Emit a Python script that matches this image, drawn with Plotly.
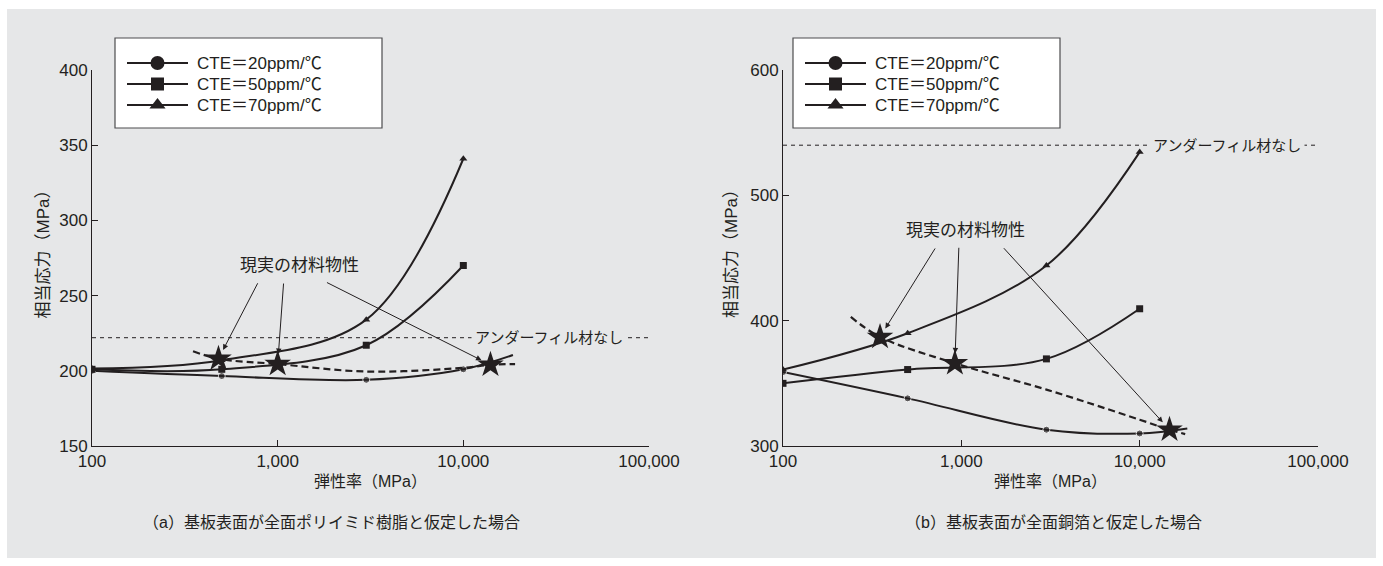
import math
import plotly.graph_objects as go

# ---------------- data ----------------
modulus = [100, 500, 3000, 10000]          # elastic modulus (MPa)

# (a) polyimide surface
a_cte20 = [200, 196.5, 194, 201]
a_cte20_ext = (18500, 210.5)
a_cte50 = [201, 201, 217, 270]
a_cte70 = [201.5, 207, 234, 341]
a_real_x = [480, 1000, 14000]
a_real_y = [208, 204.5, 204]
a_trend_x = [350, 480, 1000, 3000, 10000, 14000, 19000]
a_trend_y = [213, 208, 204.5, 199.5, 202, 204, 204.5]
a_nofill = 222

# (b) copper surface
b_cte20 = [359, 338, 313, 310]
b_cte20_ext = (18500, 314)
b_cte50 = [350, 361, 369.5, 409.5]
b_cte70 = [361, 390, 444, 534.5]
b_real_x = [350, 920, 14700]
b_real_y = [387, 366, 313]
b_trend_x = [240, 350, 920, 3000, 10000, 14700, 18000]
b_trend_y = [403, 387, 366, 345, 321, 313, 309.5]
b_nofill = 540

x_ticks = [100, 1000, 10000, 100000]
x_ticktext = ["100", "1,000", "10,000", "100,000"]
a_yticks = [150, 200, 250, 300, 350, 400]
b_yticks = [300, 400, 500, 600]

series_names = ["CTE＝20ppm/℃", "CTE＝50ppm/℃", "CTE＝70ppm/℃"]
series_symbols = ["circle", "square", "triangle-up"]
y_title = "相当応力（MPa）"
x_title = "弾性率（MPa）"
nofill_label = "アンダーフィル材なし"
real_label = "現実の材料物性"
caption_a = "（a）基板表面が全面ポリイミド樹脂と仮定した場合"
caption_b = "（b）基板表面が全面銅箔と仮定した場合"

# ---------------- style ----------------
W, H = 1383, 566
INK = "#231f20"
BG = "#e6e7e8"
FONT = "Liberation Sans, Noto Sans CJK JP, sans-serif"


def fx(p):
    return p / W


def fy(p):
    return 1 - p / H


fig = go.Figure()

panels = [
    dict(xa="x", ya="y", c20=a_cte20, ext=a_cte20_ext, c50=a_cte50, c70=a_cte70,
         rx=a_real_x, ry=a_real_y, tx=a_trend_x, ty=a_trend_y, nf=a_nofill),
    dict(xa="x2", ya="y2", c20=b_cte20, ext=b_cte20_ext, c50=b_cte50, c70=b_cte70,
         rx=b_real_x, ry=b_real_y, tx=b_trend_x, ty=b_trend_y, nf=b_nofill),
]

for p in panels:
    # no-underfill reference line
    fig.add_trace(go.Scatter(x=[x_ticks[0], x_ticks[-1]], y=[p["nf"], p["nf"]], mode="lines",
                             line=dict(color=INK, width=1, dash="4px,4px"),
                             xaxis=p["xa"], yaxis=p["ya"], showlegend=False, hoverinfo="skip"))
    # CTE series
    fig.add_trace(go.Scatter(x=modulus + [p["ext"][0]], y=p["c20"] + [p["ext"][1]],
                             mode="lines+markers",
                             line=dict(color=INK, width=2, shape="spline"),
                             marker=dict(symbol="circle", size=[7, 7, 7, 7, 0], color=INK),
                             xaxis=p["xa"], yaxis=p["ya"], showlegend=False))
    fig.add_trace(go.Scatter(x=modulus, y=p["c50"], mode="lines+markers",
                             line=dict(color=INK, width=2, shape="spline"),
                             marker=dict(symbol="square", size=7, color=INK),
                             xaxis=p["xa"], yaxis=p["ya"], showlegend=False))
    fig.add_trace(go.Scatter(x=modulus, y=p["c70"], mode="lines+markers",
                             line=dict(color=INK, width=2, shape="spline"),
                             marker=dict(symbol="triangle-up", size=7, color=INK),
                             xaxis=p["xa"], yaxis=p["ya"], showlegend=False))
    # trend of real material properties
    fig.add_trace(go.Scatter(x=p["tx"], y=p["ty"], mode="lines",
                             line=dict(color=INK, width=2.2, dash="7px,4px", shape="spline"),
                             xaxis=p["xa"], yaxis=p["ya"], showlegend=False))
    fig.add_trace(go.Scatter(x=p["rx"], y=p["ry"], mode="markers",
                             marker=dict(symbol="star", size=20, color=INK),
                             xaxis=p["xa"], yaxis=p["ya"], showlegend=False))

# ---------------- legends (drawn manually) ----------------
legend_boxes = [(115, 38, 382, 128, "x3", "y3"), (793, 38, 1060, 128, "x4", "y4")]
row_y = [25, 46, 67]
legend_sizes = {"circle": 14, "square": 13, "triangle-up": 14}
shapes = [dict(type="rect", xref="paper", yref="paper", x0=fx(7), x1=fx(1376), y0=fy(558), y1=fy(9),
               fillcolor=BG, line=dict(width=0), layer="below")]
annotations = []
for (l, t, r, b, xa, ya) in legend_boxes:
    shapes.append(dict(type="rect", xref="paper", yref="paper", x0=fx(l), x1=fx(r), y0=fy(b), y1=fy(t),
                       fillcolor="white", line=dict(color="#4d4d4f", width=1.2), layer="below"))
    for i, (name, sym) in enumerate(zip(series_names, series_symbols)):
        fig.add_trace(go.Scatter(x=[12, 73], y=[row_y[i], row_y[i]], mode="lines",
                                 line=dict(color=INK, width=2), xaxis=xa, yaxis=ya,
                                 showlegend=False, hoverinfo="skip"))
        fig.add_trace(go.Scatter(x=[42.5], y=[row_y[i]], mode="markers",
                                 marker=dict(symbol=sym, size=legend_sizes[sym], color=INK),
                                 xaxis=xa, yaxis=ya, showlegend=False, hoverinfo="skip"))
        annotations.append(dict(xref=xa, yref=ya, x=80, y=row_y[i], text=name, showarrow=False,
                                xanchor="left", yanchor="middle", font=dict(size=17, color=INK)))

# ---------------- annotations ----------------
# no-underfill labels
annotations.append(dict(xref="x", yref="y", x=4.461, y=a_nofill, text=nofill_label, showarrow=False,
                        xanchor="center", yanchor="middle",
                        bgcolor=BG, borderpad=3, font=dict(size=15, color=INK)))
annotations.append(dict(xref="x2", yref="y2", x=4.490, y=b_nofill, text=nofill_label, showarrow=False,
                        xanchor="center", yanchor="middle",
                        bgcolor=BG, borderpad=3, font=dict(size=15, color=INK)))
# real material label + arrows
annotations.append(dict(xref="x", yref="y", x=3.115, y=269.7, text=real_label, showarrow=False,
                        xanchor="center", yanchor="middle", font=dict(size=17, color=INK)))
annotations.append(dict(xref="x2", yref="y2", x=3.025, y=471.8, text=real_label, showarrow=False,
                        xanchor="center", yanchor="middle", font=dict(size=17, color=INK)))
a_offsets = [(40, -77), (6, -82), (-165, -83)]
b_offsets = [(56, -90), (4, -117), (-167, -183)]
for xa, ya, rx, ry, offs in [("x", "y", a_real_x, a_real_y, a_offsets), ("x2", "y2", b_real_x, b_real_y, b_offsets)]:
    for sx, sy, (ox, oy) in zip(rx, ry, offs):
        annotations.append(dict(xref=xa, yref=ya, x=math.log10(sx), y=sy, text="", showarrow=True,
                                ax=ox, ay=oy, arrowhead=2, arrowsize=1.1, arrowwidth=1,
                                arrowcolor=INK, standoff=10))

# axis titles & captions
for cx in [(92 + 649) / 2, (783 + 1318) / 2]:
    annotations.append(dict(xref="paper", yref="paper", x=fx(cx), y=fy(481), text=x_title,
                            xanchor="center", yanchor="middle",
                            showarrow=False, font=dict(size=16, color=INK)))
for cx, cap in [(331, caption_a), (1053, caption_b)]:
    annotations.append(dict(xref="paper", yref="paper", x=fx(cx), y=fy(522), text=cap,
                            xanchor="center", yanchor="middle",
                            showarrow=False, font=dict(size=16, color=INK)))
for cx in [42.5, 731]:
    annotations.append(dict(xref="paper", yref="paper", x=fx(cx), y=fy(250), text=y_title,
                            xanchor="center", yanchor="middle",
                            textangle=-90, showarrow=False, font=dict(size=17, color=INK)))

axis_common = dict(showline=True, linecolor=INK, linewidth=1, ticks="inside", ticklen=6,
                   tickcolor=INK, showgrid=False, zeroline=False, automargin=False,
                   tickfont=dict(size=17, color=INK))
hidden = dict(visible=False, automargin=False, fixedrange=True)

fig.update_layout(
    width=W, height=H, autosize=False,
    margin=dict(l=0, r=0, t=0, b=0, pad=0, autoexpand=False),
    paper_bgcolor="white", plot_bgcolor="rgba(0,0,0,0)",
    font=dict(family=FONT, color=INK), showlegend=False,
    xaxis=dict(type="log", range=[2, 5], domain=[fx(92), fx(649)], anchor="y",
               tickvals=x_ticks, ticktext=x_ticktext, **axis_common),
    yaxis=dict(range=[150, 400], domain=[fy(446), fy(70)], anchor="x", tickvals=a_yticks, **axis_common),
    xaxis2=dict(type="log", range=[2, 5], domain=[fx(783), fx(1318)], anchor="y2",
                tickvals=x_ticks, ticktext=x_ticktext, **axis_common),
    yaxis2=dict(range=[300, 600], domain=[fy(446), fy(70)], anchor="x2", tickvals=b_yticks, **axis_common),
    xaxis3=dict(range=[0, 267], domain=[fx(115), fx(382)], anchor="y3", **hidden),
    yaxis3=dict(range=[90, 0], domain=[fy(128), fy(38)], anchor="x3", **hidden),
    xaxis4=dict(range=[0, 267], domain=[fx(793), fx(1060)], anchor="y4", **hidden),
    yaxis4=dict(range=[90, 0], domain=[fy(128), fy(38)], anchor="x4", **hidden),
    shapes=shapes, annotations=annotations,
)

fig.write_html("out.html", config={"displayModeBar": False},
               post_script="document.body.style.margin='0px';document.body.style.overflow='hidden';")
